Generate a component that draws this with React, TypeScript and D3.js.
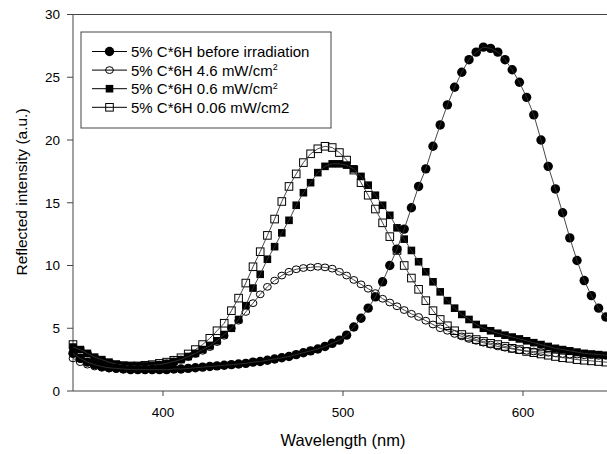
import React from "react";
import * as d3 from "d3";

const wavelengths = [
  350, 354, 358, 362, 366, 370, 374, 378, 382, 386, 390, 394, 398, 402, 406, 410, 414, 418, 422, 426,
  430, 434, 438, 442, 446, 450, 454, 458, 462, 466, 470, 474, 478, 482, 486, 490, 494, 498, 502, 506,
  510, 514, 518, 522, 526, 530, 534, 538, 542, 546, 550, 554, 558, 562, 566, 570, 574, 578, 582, 586,
  590, 594, 598, 602, 606, 610, 614, 618, 622, 626, 630, 634, 638, 642, 646, 650,
];

const beforeIrradiation = [
  3.0, 2.6, 2.3, 2.1, 1.95, 1.85, 1.8, 1.75, 1.7, 1.7, 1.7, 1.7, 1.7, 1.7, 1.75, 1.75, 1.8, 1.85, 1.9, 1.95,
  2.0, 2.05, 2.1, 2.15, 2.2, 2.3, 2.35, 2.45, 2.55, 2.65, 2.75, 2.9, 3.05, 3.2, 3.35, 3.55, 3.8, 4.05, 4.45, 5.1,
  5.8, 6.6, 7.5, 8.7, 10.0, 11.3, 12.9, 14.6, 16.3, 17.7, 19.5, 21.2, 22.8, 24.2, 25.4, 26.4, 27.0, 27.4, 27.3, 27.0,
  26.4, 25.6, 24.6, 23.4, 22.0, 20.0, 17.9, 16.1, 14.2, 12.2, 10.4, 8.8, 7.6, 6.6, 5.9, 5.3,
];

const irr46 = [
  2.6, 2.3, 2.1, 1.95, 1.85, 1.8, 1.8, 1.8, 1.85, 1.9, 1.95, 2.0, 2.1, 2.2, 2.35, 2.5, 2.7, 2.95, 3.2, 3.5,
  3.9, 4.4, 5.0, 5.6, 6.3, 7.0, 7.7, 8.3, 8.8, 9.2, 9.5, 9.7, 9.8, 9.85, 9.9, 9.85, 9.75, 9.5, 9.2, 8.85,
  8.5, 8.15, 7.8, 7.35, 7.05, 6.75, 6.45, 6.15, 5.9, 5.6, 5.3, 5.0, 4.8, 4.55, 4.35, 4.15, 4.0, 3.85, 3.7, 3.55,
  3.45, 3.35, 3.25, 3.2, 3.15, 3.1, 3.05, 3.0, 2.95, 2.9, 2.9, 2.85, 2.85, 2.8, 2.8, 2.8,
];

const irr06 = [
  3.5, 3.3, 3.0, 2.7, 2.5, 2.3, 2.15, 2.05, 2.0, 2.0, 2.0, 2.05, 2.1, 2.2, 2.35, 2.5, 2.75, 3.0, 3.3, 3.6,
  4.0, 4.5, 5.0, 5.7, 6.8, 8.2, 9.3, 10.5, 11.5, 12.6, 13.6, 14.8, 15.8, 16.6, 17.4, 17.9, 18.1, 18.1, 18.0, 17.7,
  17.1, 16.4, 15.6, 14.8, 14.0, 13.0, 12.1, 11.2, 10.3, 9.5, 8.7, 7.9, 7.2, 6.6, 6.1, 5.7, 5.3, 5.0, 4.8, 4.6,
  4.45, 4.3, 4.15, 4.0, 3.85, 3.7, 3.55, 3.4, 3.3, 3.2, 3.1, 3.0, 2.95, 2.9, 2.85, 2.8,
];

const irr006 = [
  3.7, 3.2, 2.8, 2.5, 2.3, 2.15, 2.05, 2.0, 2.0, 2.0, 2.05, 2.1, 2.2, 2.3, 2.45, 2.65, 2.95, 3.3, 3.7, 4.2,
  4.8, 5.4, 6.4, 7.4, 8.6, 9.9, 11.1, 12.4, 13.7, 15.1, 16.3, 17.3, 18.2, 18.9, 19.3, 19.5, 19.4, 19.0, 18.4, 17.6,
  16.6, 15.6, 14.5, 13.4, 12.3, 11.2, 10.0, 9.0, 8.1, 7.2, 6.4, 5.7, 5.2, 4.8, 4.5, 4.3, 4.1, 3.95, 3.8, 3.7,
  3.55, 3.4, 3.3, 3.15, 3.05, 2.95, 2.85, 2.75, 2.65, 2.6, 2.5, 2.45, 2.4, 2.35, 2.3, 2.3,
];

const xTicks = [400, 500, 600];
const yTicks = [0, 5, 10, 15, 20, 25, 30];

type Marker = "filledCircle" | "openCircle" | "filledSquare" | "openSquare";

const seriesList: { name: string; sup: boolean; values: number[]; marker: Marker }[] = [
  { name: "5% C*6H before irradiation", sup: false, values: beforeIrradiation, marker: "filledCircle" },
  { name: "5% C*6H 4.6 mW/cm", sup: true, values: irr46, marker: "openCircle" },
  { name: "5% C*6H 0.6 mW/cm", sup: true, values: irr06, marker: "filledSquare" },
  { name: "5% C*6H 0.06 mW/cm2", sup: false, values: irr006, marker: "openSquare" },
];

const FONT = "'Liberation Sans', Arial, sans-serif";

function MarkerShape({ type, x, y }: { type: Marker; x: number; y: number }) {
  if (type === "filledCircle") return <circle cx={x} cy={y} r={4.7} fill="#000" />;
  if (type === "openCircle")
    return <ellipse cx={x} cy={y} rx={3.9} ry={3.4} fill="none" stroke="#000" strokeWidth={1} />;
  if (type === "filledSquare") return <rect x={x - 3.8} y={y - 3.8} width={7.6} height={7.6} fill="#000" />;
  return <rect x={x - 3.8} y={y - 3.8} width={7.6} height={7.6} fill="none" stroke="#000" strokeWidth={1} />;
}

export default function App() {
  const width = 607;
  const height = 454;
  const x = d3.scaleLinear().domain([350, 650]).range([73, 613]);
  const y = d3.scaleLinear().domain([0, 30]).range([391, 14.5]);
  const line = d3
    .line<number>()
    .x((_, i) => x(wavelengths[i]))
    .y((d) => y(d));

  const drawOrder = [1, 3, 2, 0];

  return (
    <svg
      width={width}
      height={height}
      style={{ position: "absolute", left: 0, top: 0, background: "#fff" }}
      fontFamily={FONT}
    >
      <rect x={0} y={0} width={width} height={height} fill="#fff" />
      {/* frame */}
      <line x1={x(350)} x2={x(650)} y1={y(30)} y2={y(30)} stroke="#444" strokeWidth={1} />
      <line x1={x(350)} x2={x(350)} y1={y(30)} y2={y(0)} stroke="#444" strokeWidth={1} />
      <line x1={x(350)} x2={x(650)} y1={y(0)} y2={y(0)} stroke="#444" strokeWidth={1} />

      {yTicks.map((t) => (
        <g key={"y" + t}>
          <line x1={x(350) - 6} x2={x(350)} y1={y(t)} y2={y(t)} stroke="#444" />
          <text x={60} y={y(t)} dy="0.36em" textAnchor="end" fontSize={13.5} fill="#000">
            {t}
          </text>
        </g>
      ))}
      {xTicks.map((t) => (
        <g key={"x" + t}>
          <line x1={x(t)} x2={x(t)} y1={y(0)} y2={y(0) + 5} stroke="#444" />
          <text x={x(t)} y={417} textAnchor="middle" fontSize={13.5} fill="#000">
            {t}
          </text>
        </g>
      ))}

      <text x={x(500)} y={446} textAnchor="middle" fontSize={16.5} fill="#000">
        Wavelength (nm)
      </text>
      <text
        transform={`translate(27, 192) rotate(-90)`}
        textAnchor="middle"
        fontSize={15.5}
        fill="#000"
      >
        Reflected intensity (a.u.)
      </text>

      {/* series */}
      {drawOrder.map((si) => {
        const s = seriesList[si];
        return (
          <g key={s.name}>
            {s.values.map((v, i) => (
              <MarkerShape key={i} type={s.marker} x={x(wavelengths[i])} y={y(v)} />
            ))}
            <path d={line(s.values) || ""} fill="none" stroke="#333" strokeWidth={0.9} />
          </g>
        );
      })}

      {/* legend */}
      <rect x={81} y={32} width={250} height={96} fill="#fff" stroke="#444" strokeWidth={1} />
      {seriesList.map((s, i) => {
        const cy = 51.5 + i * 18.6;
        return (
          <g key={"lg" + i}>
            <line x1={92} x2={127} y1={cy} y2={cy} stroke="#000" strokeWidth={1} />
            <MarkerShape type={s.marker} x={109.5} y={cy} />
            <text x={131} y={cy} dy="0.36em" fontSize={15} fill="#000">
              {s.name}
              {s.sup ? (
                <tspan fontSize={9} dy="-0.6em">
                  2
                </tspan>
              ) : null}
            </text>
          </g>
        );
      })}
    </svg>
  );
}
